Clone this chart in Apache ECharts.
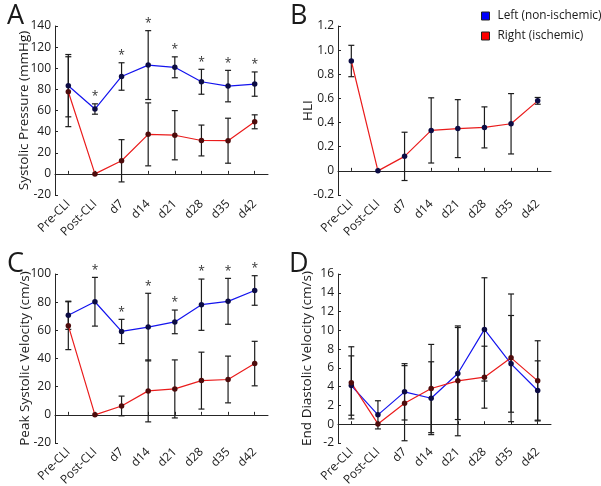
<!DOCTYPE html>
<html>
<head>
<meta charset="utf-8">
<script src="https://cdn.jsdelivr.net/npm/echarts@6/dist/echarts.min.js"></script>
<style>
  html, body { margin: 0; padding: 0; background: #ffffff; }
  #chart { width: 601px; height: 486px; }
</style>
</head>
<body>
<div id="chart"></div>
<script>
// ---------------- data ----------------
const categories = ['Pre-CLI', 'Post-CLI', 'd7', 'd14', 'd21', 'd28', 'd35', 'd42'];

// A: Systolic pressure (mmHg)
const pressureLeft     = [83.5, 61.4, 92.2, 103.0, 100.9, 87.2, 83.1, 85.0];
const pressureLeftErr  = [29.5, 4.9, 13.0, 32.6, 9.9, 11.8, 14.9, 11.5];
const pressureRight    = [77.8, 0, 12.4, 37.4, 36.6, 31.6, 31.4, 49.3];
const pressureRightErr = [33.1, 0, 20.0, 29.8, 23.3, 14.6, 21.3, 6.6];
const pressureSig      = [0, 1, 1, 1, 1, 1, 1, 1];

// B: HLI
const hliRight    = [0.91, 0, 0.12, 0.335, 0.35, 0.36, 0.39, 0.58];
const hliRightErr = [0.13, 0, 0.2, 0.27, 0.24, 0.17, 0.25, 0.028];

// C: Peak systolic velocity (cm/s)
const psvLeft     = [70.7, 80.3, 59.2, 62.3, 66.0, 78.2, 80.6, 88.3];
const psvLeftErr  = [10.0, 17.3, 8.6, 24.0, 8.4, 18.2, 16.3, 10.5];
const psvRight    = [63.3, 0, 6.3, 17.0, 18.4, 24.3, 25.1, 36.4];
const psvRightErr = [17.0, 0, 7.0, 22.0, 20.6, 20.2, 16.6, 15.8];
const psvSig      = [0, 1, 1, 1, 1, 1, 1, 1];

// D: End diastolic velocity (cm/s)
const edvLeft     = [4.12, 1.0, 3.45, 2.77, 5.4, 10.1, 6.43, 3.59];
const edvLeftErr  = [3.16, 1.5, 3.0, 3.88, 4.9, 5.5, 5.15, 3.16];
const edvRight    = [4.41, 0.03, 2.24, 3.8, 4.62, 5.01, 7.07, 4.62];
const edvRightErr = [3.84, 0, 4.0, 4.7, 5.85, 3.3, 6.8, 4.27];

// axis ranges [min, max, interval]
const pressureRange = [-20, 140, 20];
const hliRange      = [-0.2, 1.2, 0.2];
const psvRange      = [-20, 100, 20];
const edvRange      = [-2, 16, 2];

const LEFT_NAME = 'Left (non-ischemic)';
const RIGHT_NAME = 'Right (ischemic)';

// ---------------- styling ----------------
const FONT = 'Open Sans';
const TXT = '#1a1a1a';
const AX = '#262626';
const BLUE = '#1414ee';
const RED = '#ea1c1c';
const BLUE_MK = '#0c0c44';
const RED_MK = '#4e0c0c';
const ERR = '#1c1c1c';

const grids = [
  { left: 55,  top: 26,  width: 213, height: 169 },
  { left: 338, top: 26,  width: 213, height: 169 },
  { left: 55,  top: 274, width: 213, height: 169 },
  { left: 338, top: 274, width: 213, height: 169 }
];

function xAxisFor(gi) {
  return {
    type: 'category', gridIndex: gi, data: categories, boundaryGap: true,
    axisLine: { lineStyle: { color: AX, width: 1 } },
    axisTick: { show: true, alignWithLabel: true, inside: true, length: 3, lineStyle: { color: AX } },
    axisLabel: { rotate: 45, margin: 7, fontFamily: FONT, fontSize: 12, color: TXT, interval: 0 },
    splitLine: { show: false }
  };
}
function yAxisFor(gi, range, name, gap, fmt) {
  return {
    type: 'value', gridIndex: gi, min: range[0], max: range[1], interval: range[2],
    name: name, nameLocation: 'middle', nameGap: gap, nameMoveOverlap: false,
    nameTextStyle: { fontFamily: FONT, fontSize: 13.5, color: TXT },
    axisLine: { show: true, lineStyle: { color: AX, width: 1 } },
    axisTick: { show: true, inside: true, length: 3, lineStyle: { color: AX } },
    axisLabel: { margin: 4, fontFamily: FONT, fontSize: 12, color: TXT, formatter: fmt },
    splitLine: { show: false }
  };
}

function lineSeries(gi, name, values, lineColor, markColor) {
  return {
    type: 'line', name: name, xAxisIndex: gi, yAxisIndex: gi,
    data: values, symbol: 'circle', symbolSize: 5.5, showSymbol: true,
    lineStyle: { color: lineColor, width: 1.2 },
    itemStyle: { color: markColor, borderWidth: 0 },
    z: 3, animation: false, silent: true
  };
}
function errSeries(gi, values, errs) {
  return {
    type: 'custom', xAxisIndex: gi, yAxisIndex: gi, z: 2, animation: false, silent: true,
    data: values.map((v, i) => [i, v, errs[i]]),
    encode: { x: 0, y: 1 },
    renderItem: function (params, api) {
      const i = api.value(0), m = api.value(1), e = api.value(2);
      if (!e) return null;
      const t = api.coord([i, m + e]);
      const b = api.coord([i, m - e]);
      const hw = 3;
      const st = { stroke: ERR, lineWidth: 1.2 };
      return {
        type: 'group', children: [
          { type: 'line', shape: { x1: t[0], y1: t[1], x2: b[0], y2: b[1] }, style: st },
          { type: 'line', shape: { x1: t[0] - hw, y1: t[1], x2: t[0] + hw, y2: t[1] }, style: st },
          { type: 'line', shape: { x1: b[0] - hw, y1: b[1], x2: b[0] + hw, y2: b[1] }, style: st }
        ]
      };
    }
  };
}
function sigSeries(gi, values, errs, flags) {
  return {
    type: 'custom', xAxisIndex: gi, yAxisIndex: gi, z: 4, animation: false, silent: true,
    data: values.map((v, i) => [i, v + errs[i], flags[i]]),
    encode: { x: 0, y: 1 },
    renderItem: function (params, api) {
      if (!api.value(2)) return null;
      const p = api.coord([api.value(0), api.value(1)]);
      return {
        type: 'text',
        style: { text: '*', x: p[0], y: p[1] - 1, align: 'center', verticalAlign: 'bottom',
                 font: '12px "' + FONT + '"', fill: '#333333' }
      };
    }
  };
}

const hliFmt = v => (Math.abs(v) < 1e-9 ? '0' : v.toFixed(1));
const intFmt = v => String(Math.round(v));

const option = {
  backgroundColor: '#ffffff',
  animation: false,
  textStyle: { fontFamily: FONT },
  title: [
    { text: 'A', left: 2, top: -2, textStyle: { fontFamily: FONT, fontSize: 27, fontWeight: 'normal', color: TXT } },
    { text: 'B', left: 285, top: -2, textStyle: { fontFamily: FONT, fontSize: 27, fontWeight: 'normal', color: TXT } },
    { text: 'C', left: 2, top: 246, textStyle: { fontFamily: FONT, fontSize: 27, fontWeight: 'normal', color: TXT } },
    { text: 'D', left: 284, top: 246, textStyle: { fontFamily: FONT, fontSize: 27, fontWeight: 'normal', color: TXT } }
  ],
  legend: {
    orient: 'vertical', left: 476, top: 4, itemWidth: 8, itemHeight: 8, itemGap: 6,
    selectedMode: false,
    textStyle: { fontFamily: FONT, fontSize: 11.8, color: TXT, padding: [0, 0, 0, 3], lineHeight: 14 },
    data: [
      { name: LEFT_NAME, icon: 'rect', itemStyle: { color: '#0000ff', borderColor: '#222', borderWidth: 1 } },
      { name: RIGHT_NAME, icon: 'rect', itemStyle: { color: '#ff0000', borderColor: '#222', borderWidth: 1 } }
    ]
  },
  grid: grids.map(g => Object.assign({ containLabel: false, outerBoundsMode: 'none' }, g)),
  xAxis: [0, 1, 2, 3].map(xAxisFor),
  yAxis: [
    yAxisFor(0, pressureRange, 'Systolic Pressure (mmHg)', 24, intFmt),
    yAxisFor(1, hliRange, 'HLI', 23, hliFmt),
    yAxisFor(2, psvRange, 'Peak Systolic Velocity (cm/s)', 23, intFmt),
    yAxisFor(3, edvRange, 'End Diastolic Velocity (cm/s)', 24, intFmt)
  ],
  series: [
    // A
    errSeries(0, pressureLeft, pressureLeftErr),
    errSeries(0, pressureRight, pressureRightErr),
    lineSeries(0, RIGHT_NAME, pressureRight, RED, RED_MK),
    lineSeries(0, LEFT_NAME, pressureLeft, BLUE, BLUE_MK),
    sigSeries(0, pressureLeft, pressureLeftErr, pressureSig),
    // B
    errSeries(1, hliRight, hliRightErr),
    lineSeries(1, RIGHT_NAME, hliRight, RED, BLUE_MK),
    // C
    errSeries(2, psvLeft, psvLeftErr),
    errSeries(2, psvRight, psvRightErr),
    lineSeries(2, RIGHT_NAME, psvRight, RED, RED_MK),
    lineSeries(2, LEFT_NAME, psvLeft, BLUE, BLUE_MK),
    sigSeries(2, psvLeft, psvLeftErr, psvSig),
    // D
    errSeries(3, edvLeft, edvLeftErr),
    errSeries(3, edvRight, edvRightErr),
    lineSeries(3, LEFT_NAME, edvLeft, BLUE, BLUE_MK),
    lineSeries(3, RIGHT_NAME, edvRight, RED, RED_MK)
  ]
};

const chart = echarts.init(document.getElementById('chart'), null, { renderer: 'canvas' });
chart.setOption(option);
</script>
</body>
</html>
